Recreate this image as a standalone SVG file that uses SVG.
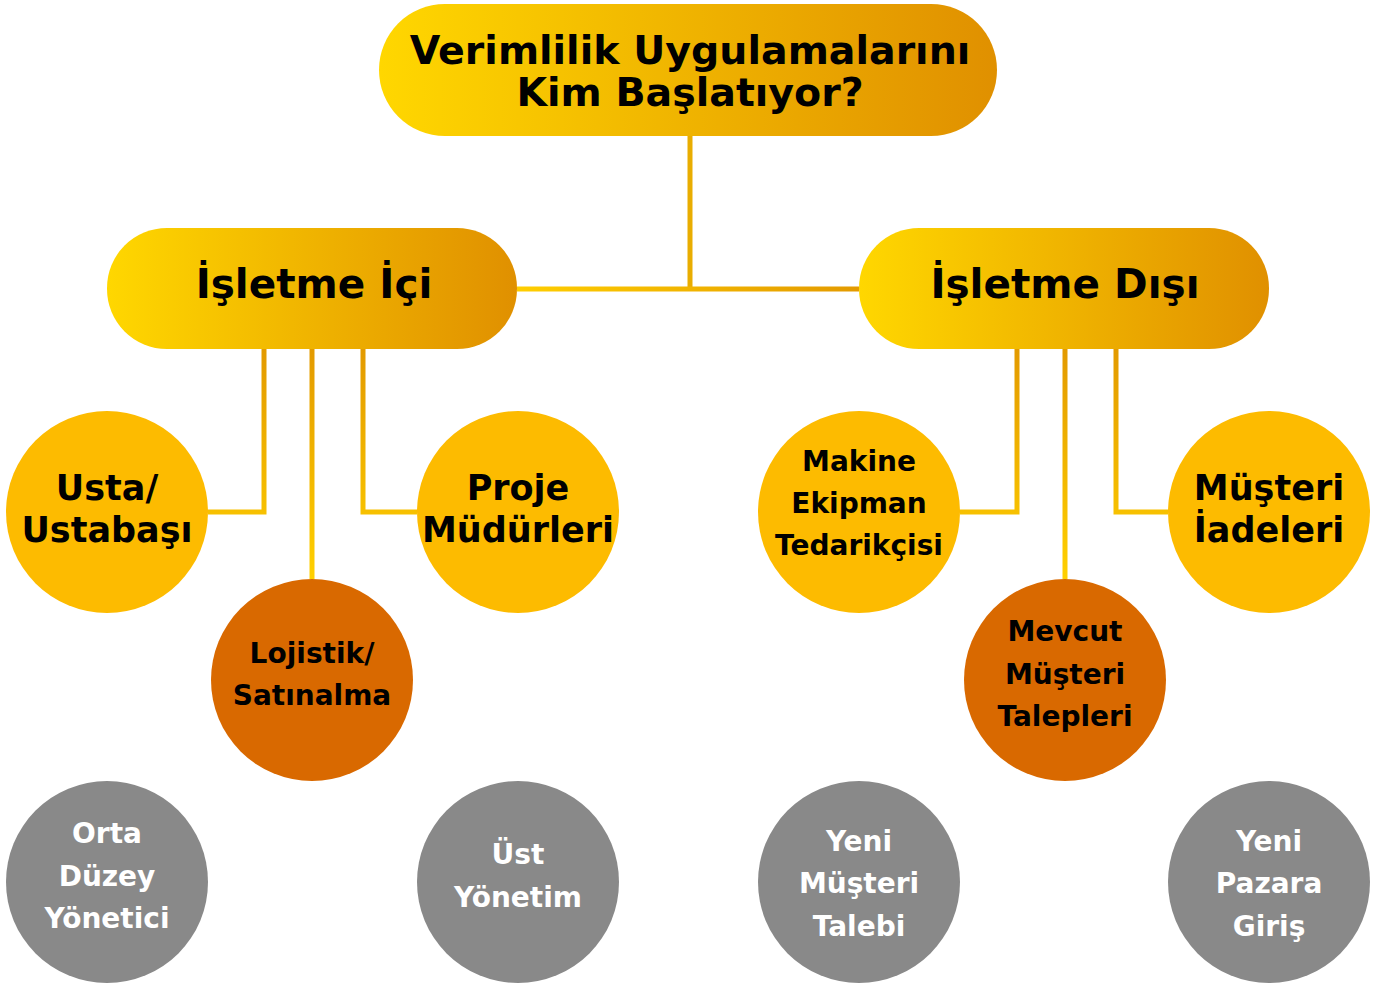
<svg xmlns="http://www.w3.org/2000/svg" width="1382" height="987" viewBox="0 0 1382 987">
<style>
text{font-family:"DejaVu Sans","Verdana",sans-serif;font-weight:bold;text-anchor:middle}
.t1{font-size:39.5px;fill:#000}
.t2{font-size:40.5px;fill:#000}
.big{font-size:35px;fill:#000}
.sm{font-size:28px;fill:#000}
.wh{font-size:28px;fill:#fff}
.yel{fill:#FDBB00}
.org{fill:#D96900}
.gry{fill:#898989}
.conn{fill:none;stroke-width:5}
</style>
<defs>
<linearGradient id="pill" x1="0" y1="0" x2="1" y2="0">
<stop offset="0" stop-color="#FFD700"/>
<stop offset="1" stop-color="#E09000"/>
</linearGradient>
<linearGradient id="hz" gradientUnits="userSpaceOnUse" x1="517" y1="0" x2="859" y2="0">
<stop offset="0" stop-color="#FFCE00"/>
<stop offset="1" stop-color="#E39A00"/>
</linearGradient>
<linearGradient id="vt" gradientUnits="userSpaceOnUse" x1="0" y1="349" x2="0" y2="579">
<stop offset="0" stop-color="#E39A00"/>
<stop offset="1" stop-color="#FFD000"/>
</linearGradient>
</defs>
<g id="connectors">
<line class="conn" x1="690" y1="136" x2="690" y2="289" stroke="#E9AD00"/>
<line class="conn" x1="517" y1="289" x2="859" y2="289" stroke="url(#hz)"/>
<path class="conn" d="M264,349 V512 H208" stroke="url(#vt)"/>
<path class="conn" d="M312,349 V579" stroke="url(#vt)"/>
<path class="conn" d="M363,349 V512 H417" stroke="url(#vt)"/>
<path class="conn" d="M1017,349 V512 H960" stroke="url(#vt)"/>
<path class="conn" d="M1065,349 V579" stroke="url(#vt)"/>
<path class="conn" d="M1116,349 V512 H1168" stroke="url(#vt)"/>
</g>
<g id="root">
<rect x="379" y="4" width="618" height="132" rx="66" fill="url(#pill)"/>
<text class="t1" x="690" y="64">Verimlilik Uygulamalarını</text>
<text class="t1" x="690" y="106">Kim Başlatıyor?</text>
</g>
<g id="isletme-ici">
<rect x="107" y="228" width="410" height="121" rx="60" fill="url(#pill)"/>
<text class="t2" x="314" y="298">İşletme İçi</text>
</g>
<g id="isletme-disi">
<rect x="859" y="228" width="410" height="121" rx="60" fill="url(#pill)"/>
<text class="t2" x="1065" y="298">İşletme Dışı</text>
</g>
<g id="usta">
<circle class="yel" cx="107" cy="512" r="101"/>
<text class="big" x="107" y="500">Usta/</text>
<text class="big" x="107" y="542">Ustabaşı</text>
</g>
<g id="proje">
<circle class="yel" cx="518" cy="512" r="101"/>
<text class="big" x="518" y="500">Proje</text>
<text class="big" x="518" y="542">Müdürleri</text>
</g>
<g id="lojistik">
<circle class="org" cx="312" cy="680" r="101"/>
<text class="sm" x="312" y="663">Lojistik/</text>
<text class="sm" x="312" y="705">Satınalma</text>
</g>
<g id="orta">
<circle class="gry" cx="107" cy="882" r="101"/>
<text class="wh" x="107" y="843">Orta</text>
<text class="wh" x="107" y="886">Düzey</text>
<text class="wh" x="107" y="928">Yönetici</text>
</g>
<g id="ust">
<circle class="gry" cx="518" cy="882" r="101"/>
<text class="wh" x="518" y="864">Üst</text>
<text class="wh" x="518" y="907">Yönetim</text>
</g>
<g id="makine">
<circle class="yel" cx="859" cy="512" r="101"/>
<text class="sm" x="859" y="471">Makine</text>
<text class="sm" x="859" y="513">Ekipman</text>
<text class="sm" x="859" y="555">Tedarikçisi</text>
</g>
<g id="iadeler">
<circle class="yel" cx="1269" cy="512" r="101"/>
<text class="big" x="1269" y="500">Müşteri</text>
<text class="big" x="1269" y="542">İadeleri</text>
</g>
<g id="mevcut">
<circle class="org" cx="1065" cy="680" r="101"/>
<text class="sm" x="1065" y="641">Mevcut</text>
<text class="sm" x="1065" y="684">Müşteri</text>
<text class="sm" x="1065" y="726">Talepleri</text>
</g>
<g id="yeni-musteri">
<circle class="gry" cx="859" cy="882" r="101"/>
<text class="wh" x="859" y="851">Yeni</text>
<text class="wh" x="859" y="893">Müşteri</text>
<text class="wh" x="859" y="936">Talebi</text>
</g>
<g id="yeni-pazar">
<circle class="gry" cx="1269" cy="882" r="101"/>
<text class="wh" x="1269" y="851">Yeni</text>
<text class="wh" x="1269" y="893">Pazara</text>
<text class="wh" x="1269" y="936">Giriş</text>
</g>
</svg>
